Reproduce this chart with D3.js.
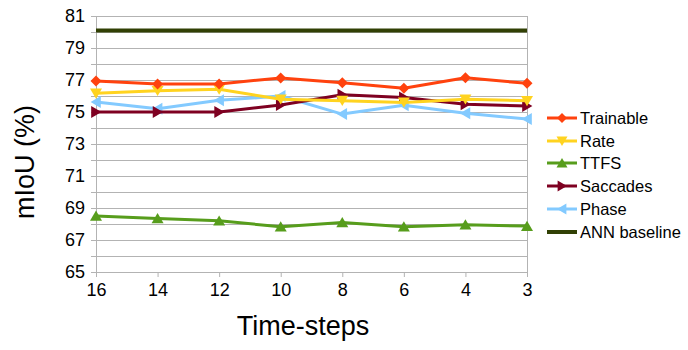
<!DOCTYPE html>
<html><head><meta charset="utf-8">
<script src="https://cdn.jsdelivr.net/npm/d3@7"></script>
<style>body{margin:0;background:#fff;} svg{display:block;font-family:"Liberation Sans",Arial,sans-serif;}</style>
</head><body>
<svg id="c" width="688" height="350"></svg>
<script>
const categories = ["16","14","12","10","8","6","4","3"];
const trainable = [76.94,76.75,76.75,77.13,76.83,76.48,77.14,76.79];
const rate      = [76.17,76.33,76.42,75.8,75.71,75.6,75.8,75.7];
const ttfs      = [68.5,68.35,68.2,67.83,68.1,67.83,67.96,67.87];
const saccades  = [75.0,75.0,75.0,75.44,76.08,75.9,75.48,75.37];
const phase     = [75.63,75.21,75.73,76.0,74.87,75.42,74.92,74.56];
const annBaseline = [80.1,80.1,80.1,80.1,80.1,80.1,80.1,80.1];
const yTicks = [65,67,69,71,73,75,77,79,81];

const series = [
  {name:"Trainable", values:trainable, color:"#ff420e", marker:"diamond"},
  {name:"Rate", values:rate, color:"#ffd320", marker:"down"},
  {name:"TTFS", values:ttfs, color:"#579d1c", marker:"up"},
  {name:"Saccades", values:saccades, color:"#7e0021", marker:"right"},
  {name:"Phase", values:phase, color:"#83caff", marker:"left"},
  {name:"ANN baseline", values:annBaseline, color:"#314004", marker:null}
];

const svg = d3.select("#c");
const L=96, R=527, T=16, B=272;
const x = d3.scalePoint().domain(categories).range([L,R]);
const y = d3.scaleLinear().domain([65,81]).range([B,T]);

// grid every 1 unit
const grid = d3.range(65,82,1);
svg.append("g").selectAll("line").data(grid).join("line")
  .attr("x1",L-5).attr("x2",R).attr("y1",d=>y(d)).attr("y2",d=>y(d))
  .attr("stroke","#b3b3b3").attr("stroke-width",1).attr("shape-rendering","crispEdges");
// right border
svg.append("line").attr("x1",R).attr("x2",R).attr("y1",T).attr("y2",B+5)
  .attr("stroke","#b3b3b3").attr("shape-rendering","crispEdges");

// y axis
const yAxis = d3.axisLeft(y).tickValues(yTicks).tickSize(0).tickPadding(11);
const gy = svg.append("g").attr("transform",`translate(${L},0)`).call(yAxis);
gy.select(".domain").attr("stroke","#b3b3b3");
gy.selectAll("text").attr("font-size",18).attr("fill","#000").attr("font-family","Liberation Sans, Arial, sans-serif");

// x axis
const xAxis = d3.axisBottom(x).tickSize(5).tickPadding(6);
const gx = svg.append("g").attr("transform",`translate(0,${B})`).call(xAxis);
gx.select(".domain").attr("stroke","#b3b3b3");
gx.selectAll(".tick line").attr("stroke","#b3b3b3");
gx.selectAll("text").attr("font-size",18).attr("fill","#000").attr("font-family","Liberation Sans, Arial, sans-serif");

// titles
svg.append("text").attr("x",303).attr("y",335).attr("text-anchor","middle")
  .attr("font-size",27).text("Time-steps");
svg.append("text").attr("transform","translate(34,162) rotate(-90)").attr("text-anchor","middle")
  .attr("font-size",27).text("mIoU (%)");

function markerPath(type, s){
  const h=s/2;
  switch(type){
    case "diamond": return `M0,${-h}L${h},0L0,${h}L${-h},0Z`;
    case "down": return `M${-h},${-h*0.8}L${h},${-h*0.8}L0,${h*0.9}Z`;
    case "up": return `M${-h},${h*0.8}L${h},${h*0.8}L0,${-h*0.9}Z`;
    case "right": return `M${-h*0.8},${-h}L${-h*0.8},${h}L${h*0.9},0Z`;
    case "left": return `M${h*0.8},${-h}L${h*0.8},${h}L${-h*0.9},0Z`;
  }
}

const line = d3.line().x((d,i)=>x(categories[i])).y(d=>y(d));
const order = [5,2,4,3,1,0];
order.forEach(k=>{
  const s = series[k];
  const g = svg.append("g");
  g.append("path").attr("d",line(s.values)).attr("fill","none")
    .attr("stroke",s.color).attr("stroke-width",s.marker?3:4).attr("stroke-linejoin","round");
  if(s.marker){
    g.selectAll("path.m").data(s.values).join("path").attr("class","m")
      .attr("transform",(d,i)=>`translate(${x(categories[i])},${y(d)})`)
      .attr("d",markerPath(s.marker, s.marker==="diamond"?11:12)).attr("fill",s.color);
  }
});

// legend
const legY = [118,141,163,186,209,232];
series.forEach((s,i)=>{
  const g = svg.append("g").attr("transform",`translate(0,${legY[i]})`);
  g.append("line").attr("x1",547).attr("x2",577).attr("y1",0).attr("y2",0)
    .attr("stroke",s.color).attr("stroke-width",s.marker?3:4);
  if(s.marker) g.append("path").attr("transform","translate(562,0)")
    .attr("d",markerPath(s.marker, s.marker==="diamond"?10:11)).attr("fill",s.color);
  g.append("text").attr("x",580).attr("y",0).attr("dy","0.35em").attr("font-size",16.5).text(s.name);
});
</script>
</body></html>
